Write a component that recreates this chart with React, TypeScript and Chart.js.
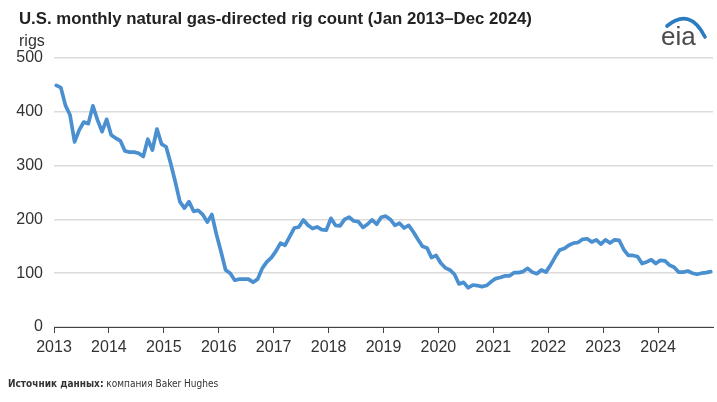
import { useEffect, useRef } from "react";
import { Chart, registerables } from "chart.js";

Chart.register(...registerables);

const years = [2013, 2014, 2015, 2016, 2017, 2018, 2019, 2020, 2021, 2022, 2023, 2024];
const yTicks = [0, 100, 200, 300, 400, 500];

const rigs2013 = [449, 445, 412, 394, 344, 366, 381, 378, 411, 385, 363, 386];
const rigs2014 = [357, 351, 346, 327, 325, 325, 323, 317, 349, 329, 368, 340];
const rigs2015 = [335, 304, 270, 233, 221, 233, 215, 217, 209, 195, 209, 172];
const rigs2016 = [140, 106, 100, 87, 89, 89, 89, 83, 89, 109, 121, 129];
const rigs2017 = [141, 156, 152, 168, 184, 186, 199, 189, 183, 186, 181, 180];
const rigs2018 = [202, 189, 188, 200, 204, 197, 196, 185, 191, 199, 191, 204];
const rigs2019 = [206, 200, 189, 193, 184, 189, 177, 163, 150, 147, 129, 133];
const rigs2020 = [119, 110, 106, 98, 80, 83, 73, 78, 77, 75, 77, 84];
const rigs2021 = [90, 92, 95, 95, 101, 101, 103, 109, 102, 99, 106, 102];
const rigs2022 = [115, 130, 143, 146, 152, 156, 157, 163, 164, 158, 162, 154];
const rigs2023 = [162, 156, 162, 161, 144, 133, 133, 131, 118, 121, 125, 118];
const rigs2024 = [124, 123, 115, 111, 102, 102, 104, 100, 98, 100, 101, 103];

const title = "U.S. monthly natural gas-directed rig count (Jan 2013\u2013Dec 2024)";
const unitLabel = "rigs";
const sourceBold = "Источник данных:";
const sourceText = " компания Baker Hughes";

export default function App() {
  const ref = useRef<HTMLCanvasElement>(null);

  useEffect(() => {
    const all = [
      ...rigs2013, ...rigs2014, ...rigs2015, ...rigs2016, ...rigs2017, ...rigs2018,
      ...rigs2019, ...rigs2020, ...rigs2021, ...rigs2022, ...rigs2023, ...rigs2024,
    ];
    const points = all.map((v, i) => ({ x: i + 0.5, y: v }));
    const font = { family: "'Liberation Sans', Arial, sans-serif", size: 16 };
    const chart = new Chart(ref.current as HTMLCanvasElement, {
      type: "line",
      data: {
        datasets: [
          {
            data: points,
            borderColor: "#4a8fd0",
            borderWidth: 3.7,
            pointRadius: 0,
            tension: 0,
            borderJoinStyle: "round",
            borderCapStyle: "round",
          },
        ],
      },
      options: {
        animation: false,
        responsive: false,
        devicePixelRatio: 1,
        layout: { padding: { top: 58, right: 4, left: 0, bottom: 0 } },
        plugins: { legend: { display: false }, tooltip: { enabled: false } },
        scales: {
          x: {
            type: "linear",
            min: 0,
            max: 144,
            afterBuildTicks: (s: any) => {
              s.ticks = years.map((_, k) => ({ value: k * 12 }));
            },
            ticks: {
              callback: (v: any) => String(years[0] + Math.round(Number(v) / 12)),
              maxRotation: 0,
              autoSkip: false,
              color: "#333",
              font,
              padding: 5,
            },
            grid: { drawOnChartArea: false, drawTicks: true, tickLength: 6, color: "#444" },
            border: { display: true, color: "#444", width: 1 },
            afterFit: (s: any) => {
              s.height = 75;
            },
          },
          y: {
            min: 0,
            max: 500,
            afterBuildTicks: (s: any) => {
              s.ticks = yTicks.map((v) => ({ value: v }));
            },
            ticks: { color: "#333", font, padding: 11 },
            grid: { color: "#dcdcdc", drawTicks: false, lineWidth: 1.5 },
            border: { display: false },
            afterFit: (s: any) => {
              s.width = 54;
            },
          },
        },
      },
    } as any);
    return () => chart.destroy();
  }, []);

  return (
    <div style={{ position: "fixed", left: 0, top: 0, width: 717, height: 402, background: "#fff", overflow: "hidden" }}>
      <canvas ref={ref} width={717} height={402} style={{ position: "absolute", left: 0, top: 0, width: 717, height: 402 }} />
      <div
        style={{
          position: "absolute",
          left: 19,
          top: 9,
          fontFamily: "'Liberation Sans', Arial, sans-serif",
          fontWeight: "bold",
          fontSize: 16.8,
          color: "#222",
          whiteSpace: "nowrap",
        }}
      >
        {title}
      </div>
      <div
        style={{
          position: "absolute",
          left: 19,
          top: 32,
          fontFamily: "'Liberation Sans', Arial, sans-serif",
          fontSize: 16,
          color: "#333",
        }}
      >
        {unitLabel}
      </div>
      <svg style={{ position: "absolute", left: 658, top: 10 }} width={54} height={40}>
        <path d="M 9 16 Q 32 -3 47 27" fill="none" stroke="#2b7bc0" strokeWidth={3.6} strokeLinecap="round" />
        <text x={3} y={35} fontFamily="'Liberation Sans', Arial, sans-serif" fontSize={26} fill="#4a4a4a">
          eia
        </text>
      </svg>
      <div
        style={{
          position: "absolute",
          left: 8,
          top: 378,
          fontFamily: "'Liberation Sans Narrow', 'DejaVu Sans Condensed', sans-serif",
          fontSize: 10,
          color: "#333",
          whiteSpace: "nowrap",
        }}
      >
        <b>{sourceBold}</b>
        {sourceText}
      </div>
    </div>
  );
}
